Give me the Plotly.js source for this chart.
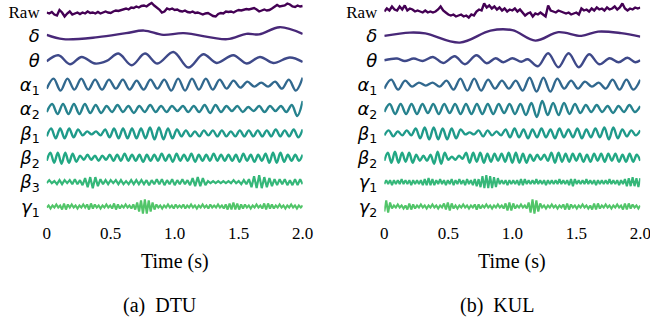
<!DOCTYPE html>
<html><head><meta charset="utf-8">
<script src="https://cdn.plot.ly/plotly-3.0.1.min.js"></script>
<style>html,body{margin:0;padding:0;background:#fff;}#chart{width:650px;height:324px;}</style>
</head><body><div id="chart"></div>
<script>
// ---------- labels ----------
const dtuBands = ["Raw","δ","θ","α|1","α|2","β|1","β|2","β|3","γ|1"];
const kulBands = ["Raw","δ","θ","α|1","α|2","β|1","β|2","γ|1","γ|2"];
const xTickVals = [0, 0.5, 1, 1.5, 2];
const xTickText = ["0", "0.5", "1.0", "1.5", "2.0"];
const xTitle = "Time (s)";
const captions = ["(a)\u00a0\u00a0DTU", "(b)\u00a0\u00a0KUL"];
const duration = 2.0;
const bandColors = ["#440154","#482878","#3e4989","#31688e","#26828e","#1f9a8a","#22a884","#35b779","#52c569"];

// ---------- DTU signals (amplitudes, evenly spread over 2 s unless given as [t, v]) ----------
const dtuRaw = [-1,-2,-0.5,-3,-4,1.5,-1,-5,-2,0,-3,
 -2,-1,-2.5,-1,-2,0,-1.5,-1,-2,-0.5,
 -2,-1,0,-1,-1.5,0,1,0.5,1.5,2.5,
 3,2,4,3.5,5,4,5.5,6,5,7,
 8.5,6,4,2,-1,0,3,2,3,1.5,
 2,0.5,0,1,-0.5,-1,0,-1.5,-1,-2,
 -3,-2,-1.5,-3,-4.5,-5,-2.5,-1.5,-2,0,
 -0.5,0,-1,0.5,1.5,1,2,2.5,2,3,
 3.5,2,0,1,2,1,1.5,3,5,6.5,
 5,5.5,6,8,7,5,4.5,6,5,5.5];
const dtuDelta = [[0,1],[0.13,-3.3],[0.4,-1.3],[0.62,2.7],[0.76,5.3],[0.91,1],[1.07,2.7],[1.41,-3.3],[1.56,2],[1.66,1.5],[1.82,8.7],[2.0,2]];
const dtuTheta = [[0,-1],[0.091,5],[0.182,-4],[0.273,3.3],[0.378,-3.3],[0.469,-0.7],[0.56,6.7],[0.664,-5],[0.768,6.7],[0.865,-3.3],[0.99,8.3],[1.107,-7.3],[1.224,6],[1.328,-2.7],[1.458,5],[1.562,-3.3],[1.666,3.3],[1.77,-2.7],[1.9,2.7],[2.0,-1.7]];
const dtuAlpha1 = [-4,6,-6,6,-5,6,-5,5,-5,5,-4,5,-5,4,-5,5,-4,5,-6,6,-6,6,-5,6,-5,5,-4,4,-3,3,-2,2,-2,3,-4,5,-6,7];
const dtuAlpha2 = [-3,5,-5,5,-5,5,-5,5,-4,4,-4,3,-3,4,-3,3,-4,3,-3,4,-3,3,-3,3,-2,3,-3,3,-3,4,-4,4,-3,3,-2,3,-3,2,-2,3,-3,3,-2,3,-3,4,-7,8];
const dtuBeta1 = [-3,5,-5,5,-5,5,-4,4, -2,2,-1,2,-2, 4,-4,5,-5,5,-5,5,-5,5,-5, 6,-6,6,-6,5,-5,4,-3,
 3,-3,2,-3,3,-2,3,-3,3,-3,2,-3,3,-3,3,-3,3,-3,3,-3,4,-3,3,-3, 4,-4,4];
const dtuBeta2 = [-3,5,-5,5,-6,5,-5,4,-4, 2,-2,3,-2,2,-3,2,-2,3, -3,3,-3,4,-3,3,-3,3,-4,3,-3,3,-3,
 4,-3,3,-4,4,-3,3,-3,4,-4,3,-3,3,-3,4,-3,3,-3,3,-3,3,-4,4,-3,3,-4,3,-3,4, -5,5,-5,5,-4, 3,-3,3,-3,3];
const dtuBeta3 = [-1,2,-1,1,-2, 2,-2,2,-1,2,-2,3,-2,2,-3, 4,-5,5,-6,5,-4,3,
 -2,2,-2,2,-1,2,-2,2,-2,1,-2,2,-2,2,-2,2,-2,2,-3,2,-2,
 3,-2,3,-3,2,-2,3,-3,2,-2,3,-2,2,-3, 4,-4,5,-4,4,-3,
 1,-1,1,-1,1,-1,1,-1,1,-1,2,-1,1,-2,2,-2,3, -5,6,-6,7,-6,5,-5,4,-4, 3,-3,3,-2,3,-3,2,-3,3,-3,3,-2];
const dtuGamma1 = [-1,1,-2,1,-1,2,-1,1, -3,3,-3,2, -1,2,-1,1,-2,1,-1,2,-1, 2,-3,3,-2,2, -1,1,-2,1,-1,2,-1,1,
 -2,3,-3,2,-2, 1,-1,2,-1,1,-2,2, -3,4,-5,6,-7,7,-7,6,-5,4,-3,
 2,-1,1,-2,1,-1,2,-1,1,-2,2,-1,1,-1,2,-2,1,-1,2,-1,1,-2,1,-1,2,-1,1,-2,2,-1,1,-1,2,-1,1,-2,
 2,-3,3,-3,4,-3,3,-3,2,-2,2, -1,1,-2,1,-1,2,-1,1, -2,3,-3,3,-2,2,-2, 1,-1,2,-1,1,-2,1,-1,2,-1,1,-2,1,-1,1];

// ---------- KUL signals ----------
const kulRaw = [0,3,1,5,2,1,5,2,6,1,3,
 2,0,1,0,-1,1,-1,0,-1,0,
 2,5,1,-1,-3,-4,-3,-5,-4,-3,
 -5,-4,-6,-3,-4,0,2,1,8,4,
 6,3,5,2,4,1,3,0,2,1,
 3,0,2,-1,-4,-2,-1,-5,-2,-3,
 -1,-3,-5,6,1,0,-1,1,0,-1,
 -2,-1,-3,-2,-1,-3,3,1,2,0,
 3,1,4,2,3,1,4,2,3,5,
 2,4,8,3,1,3,2,4,3,4];
const kulDelta = [[0,0],[0.2,3.3],[0.32,2.5],[0.59,-6.7],[0.83,5.3],[1.0,5.7],[1.18,-4.7],[1.36,3.7],[1.54,0],[1.67,4.3],[1.85,2.7],[2.0,-0.7]];
const kulTheta = [[0,0],[0.1,1.7],[0.16,-0.7],[0.23,1.7],[0.3,-0.7],[0.38,3.3],[0.46,-2.7],[0.55,4],[0.63,-4],[0.72,5],[0.8,-3],[0.87,2],[0.93,-2],[1.0,2],[1.07,-1.5],[1.12,1],[1.2,-6],[1.28,7],[1.36,-7],[1.44,7],[1.52,-7],[1.6,6],[1.68,-4],[1.76,2],[1.83,-2],[1.9,2.5],[1.96,-2],[2.0,0]];
const kulAlpha1 = [-4,5,-5,4,-2,2,-1,2,-2,4,-5,6,-6,6,-6,5,-4,4,-4,4,-6,7,-7,7,-7,6,-4,4,-4,3,-2,2,-4,5,-5,5,-5,5];
const kulAlpha2 = [-3,5,-5,5,-5,5,-5,5,-4,5,-5,5,-4,5,-5,5,-5,5,-5,5,-5,5,-4,5,-5,5,-6,6,-8,8,-6,6,-6,6,-5,5,-4,4,-3,4,-3,3,-4,3,-3,4,-3,3];
const kulBeta1 = [-2,3,-3,2,-2,3,-2, 5,-5,6,-6,6,-6,5,-6,5,-5,4, -1,1,-1, 3,-3,3,-2, 2,-2,
 4,-4,5,-4,4,-5,4,-4,5,-4,4,-5,5,-4,4,-4,5,-5,4,-4,5,-4, 6,-6,6,-5, 4,-3,3,-2,3];
const kulBeta2 = [-3,5,-5,6,-5,5,-4,5,-5, 3,-3,2,-3,3, -6,6,-6,5, -2,1,-2,2,-1, 5,-5,5,-4,5,-5,4,
 -4,4,-3,4,-4, 5,-5,5,-5,4,-5, 3,-3,3,-2,3,-3, 5,-5,5,-4,4,
 -4,4,-3,4,-4,3,-4,4,-3,4,-4,4,-3,4,-4,3,-4,4,-4,3,-3];
const kulGamma1 = [-2,2,-2,2,-3,2,-2,2,-2,3,-2,2,-2,2,-3,2,-2,2,-2,2, -3,3,-3,4,-3,3,-3,
 2,-2,3,-2,2,-3,2,-2,3,-3,2,-2,3,-2,2,-3,3,-2,2,-3, 3,-4,3, -5,6,-6,7,-6,6,-6,5,-5,4,
 -2,2,-2,2,-3,2,-2,2,-2,2, -3,3,-3,3,-2, 2,-2,2,-2,3,-2,2,-2,2,-3,2,-2,2,-2,2,-2,3,-2,2,-2,2,
 -3,3,-4,3, -2,2,-2,2,-2,3,-2,2,-2,2,-3,2,-2,2,-2,2,-2,3,-2,2,-2,2,-3,2,-2, 3,-4,4,-4,5,-4,4,-5,4];
const kulGamma2 = [-5,6,-6,4, -2,1,-1,2,-1,1,-2,1, -3,3,-3,2,-2, 1,-1,2,-1,1,-2,1,-1,2,-1,1,-2,1,-1,
 3,-3,4,-4,3,-2, 1,-2,1,-1,2,-1,1,-2,1,-1, 2,-3,2,-2, 1,-1,2,-1,1,-2,1,-1,2,-1,1,-2,
 3,-4,4,-4,3,-2, 1,-1,2,-1,1,-2, 4,-6,7,-7,6,-5,3, -1,1,-2,1,-1,2,-1,1,-2,1,-1,
 2,-3,3,-3,2, -1,1,-2,1,-1,2,-1,1,-2,1, -3,3,-3,3,-2, 1,-1,2,-1,1,-2,1,-1,2,-1,1, -3,3,-3,3,-2, 2,-1,1,-2,1];

// ---------- helpers ----------
function even(vals){ const n = vals.length; return {t: vals.map((_, i) => duration * i / (n - 1)), v: vals}; }
function pairs(p){ return {t: p.map(d => d[0]), v: p.map(d => d[1])}; }
const SCALE = 1 / 24.375;

const dtuRows = [
  {s: even(dtuRaw), shape: 'linear', w: 2.4},
  {s: pairs(dtuDelta), shape: 'spline', w: 2.4},
  {s: pairs(dtuTheta), shape: 'spline', w: 2.4},
  {s: even(dtuAlpha1), shape: 'spline', w: 2.4},
  {s: even(dtuAlpha2), shape: 'spline', w: 2.4},
  {s: even(dtuBeta1), shape: 'spline', w: 2.4},
  {s: even(dtuBeta2), shape: 'spline', w: 2.4},
  {s: even(dtuBeta3), shape: 'linear', w: 2.2},
  {s: even(dtuGamma1), shape: 'linear', w: 2.1}
];
const kulRows = [
  {s: even(kulRaw), shape: 'linear', w: 2.4},
  {s: pairs(kulDelta), shape: 'spline', w: 2.4},
  {s: pairs(kulTheta), shape: 'spline', w: 2.4},
  {s: even(kulAlpha1), shape: 'spline', w: 2.4},
  {s: even(kulAlpha2), shape: 'spline', w: 2.4},
  {s: even(kulBeta1), shape: 'spline', w: 2.4},
  {s: even(kulBeta2), shape: 'spline', w: 2.4},
  {s: even(kulGamma1), shape: 'linear', w: 2.1},
  {s: even(kulGamma2), shape: 'linear', w: 2.1}
];

const traces = [];
function addPanel(rows, xa, ya){
  rows.forEach((r, k) => {
    traces.push({x: r.s.t, y: r.s.v.map(v => -k + v * SCALE), xaxis: xa, yaxis: ya,
      type: 'scatter', mode: 'lines', line: {color: bandColors[k], width: r.w, shape: r.shape},
      hoverinfo: 'skip', showlegend: false});
  });
}
addPanel(dtuRows, 'x', 'y');
addPanel(kulRows, 'x2', 'y2');

function labelHtml(b){
  if (b === 'Raw') return "<span style='font-family:\"Liberation Serif\",serif;font-size:17px;font-style:normal'>Raw</span>";
  const parts = b.split('|');
  return '<i>' + parts[0] + '</i>' + (parts[1] ? '<sub>' + parts[1] + '</sub>' : '');
}
const rowVals = dtuBands.map((_, k) => -k);

const W = 650, H = 324;
const plotBottom = 221;
const pxPerRow = 24.375;
const yTop = 11.5 / pxPerRow;
const yRange = [yTop - plotBottom / pxPerRow, yTop];
const yDom = [1 - plotBottom / H, 1];
const serif = '"Liberation Serif", "Times New Roman", serif';

const xCommon = {range: [0, duration], tickvals: xTickVals, ticktext: xTickText, showgrid: false, zeroline: false,
  showline: false, ticks: '', ticklabeloverflow: 'allow', tickfont: {family: serif, size: 17, color: '#000'}, fixedrange: true};
const yCommon = {range: yRange, domain: yDom, tickvals: rowVals, showgrid: false, zeroline: false, showline: false,
  ticks: '', ticklabeloverflow: 'allow', tickfont: {family: '"DejaVu Sans", sans-serif', size: 18, color: '#000'}, ticklabelstandoff: 6, fixedrange: true};

const layout = {
  width: W, height: H, margin: {l: 0, r: 0, t: 0, b: 0}, paper_bgcolor: '#fff', plot_bgcolor: '#fff', showlegend: false,
  xaxis: Object.assign({}, xCommon, {domain: [46.7 / W, 302.7 / W], anchor: 'y'}),
  xaxis2: Object.assign({}, xCommon, {domain: [384.3 / W, 640.3 / W], anchor: 'y2'}),
  yaxis: Object.assign({}, yCommon, {anchor: 'x', ticktext: dtuBands.map(labelHtml)}),
  yaxis2: Object.assign({}, yCommon, {anchor: 'x2', ticktext: kulBands.map(labelHtml)}),
  annotations: [
    {text: xTitle, xref: 'paper', yref: 'paper', x: 174.7 / W, y: 1 - 261 / H, xanchor: 'center', yanchor: 'middle', showarrow: false, font: {family: serif, size: 20, color: '#000'}},
    {text: xTitle, xref: 'paper', yref: 'paper', x: 512.2 / W, y: 1 - 261 / H, xanchor: 'center', yanchor: 'middle', showarrow: false, font: {family: serif, size: 20, color: '#000'}},
    {text: captions[0], xref: 'paper', yref: 'paper', x: 159.5 / W, y: 1 - 305 / H, xanchor: 'center', yanchor: 'middle', showarrow: false, font: {family: serif, size: 20, color: '#000'}},
    {text: captions[1], xref: 'paper', yref: 'paper', x: 497 / W, y: 1 - 305 / H, xanchor: 'center', yanchor: 'middle', showarrow: false, font: {family: serif, size: 20, color: '#000'}}
  ]
};
Plotly.newPlot('chart', traces, layout, {staticPlot: true, displayModeBar: false});
</script>
</body></html>
